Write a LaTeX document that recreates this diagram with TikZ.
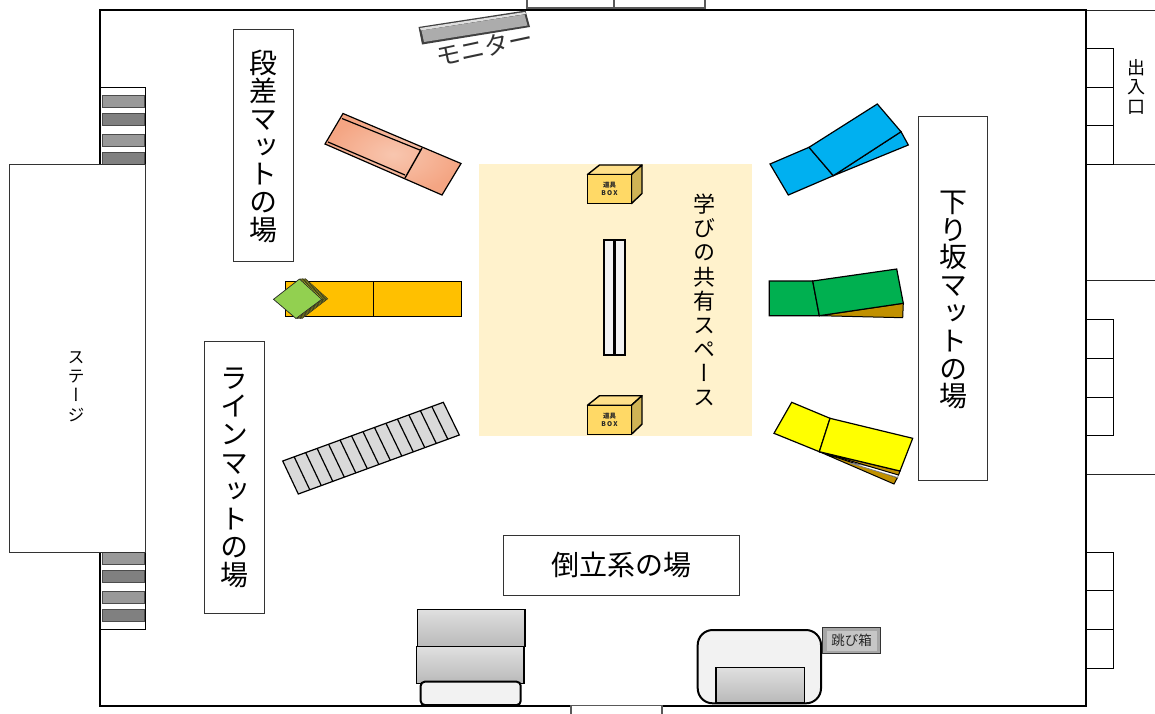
\documentclass[tikz,border=0pt]{standalone}
\usepackage{fontspec}
\newfontfamily\jp{Noto Sans CJK JP}
\newfontfamily\jpv[RawFeature=+vert]{Noto Sans CJK JP}
\usetikzlibrary{calc}
\definecolor{gold}{HTML}{C09000}
\definecolor{cream}{HTML}{FFF2CC}
\definecolor{boxfront}{HTML}{FFD966}
\definecolor{boxtop}{HTML}{FFE08A}
\definecolor{boxside}{HTML}{CFB355}
\definecolor{matorange}{HTML}{FFC000}
\definecolor{leaf}{HTML}{92D050}
\definecolor{matblue}{HTML}{00B0F0}
\definecolor{matgreen}{HTML}{00B050}
\definecolor{matyellow}{HTML}{FFFF00}
\definecolor{salmonin}{HTML}{F8C6AF}
\definecolor{salmonout}{HTML}{F4A583}
\definecolor{stackdark}{HTML}{A8A800}
\definecolor{stacklight}{HTML}{C4C820}
\tikzset{
  ol/.style={draw=black,line width=1.2pt,line join=miter},
  thin box/.style={draw=black,line width=0.9pt,fill=white},
  label box/.style={draw=black!80,line width=0.9pt,fill=white},
  vlabel/.style n args={2}{inner sep=0pt,align=center,text=black,font=\fontsize{#1}{#2}\jpv},
  bar/.style={draw=black!65,line width=1.4pt},
  graybox/.style={ol,top color=gray!25,bottom color=gray!55,line width=1.3pt},
}
\begin{document}
\begin{tikzpicture}[x=1pt,y=-1pt]
\useasboundingbox (0,0) rectangle (1155,713);
\fill[white] (0,0) rectangle (1155,713);

% right-hand outside lines
\foreach \y in {10,164,280,474}{\draw[line width=0.9pt,black!85] (1086,\y) -- (1155,\y);}
\foreach \a/\b/\c/\d in {48/87/125/164,319.5/358/397/435,552/590/629/668}{
  \draw[thin box] (1086,\a) rectangle (1113,\d);
  \draw[line width=0.9pt] (1086,\b) -- (1113,\b) (1086,\c) -- (1113,\c);
}
% doors
\draw[bar,fill=white] (527,-3) rectangle (614,8);
\draw[bar,fill=white] (614,-3) rectangle (705,8);
% left racks
\draw[thin box] (100,87) rectangle (145,164);
\draw[thin box] (100,552) rectangle (145,629);
\foreach \a/\b/\c in {95/107/gray!80,113/125/gray!100,134/146/gray!80,152/164/gray!100,552/564/gray!80,570/582/gray!100,591/603/gray!80,609/621/gray!100}{
  \draw[fill=\c,draw=black!70,line width=1pt] (102,\a) rectangle (144.5,\b);
}
% room
\draw[black,line width=2pt] (100,10) rectangle (1086,706);
\draw[bar,fill=white] (571,705.5) rectangle (662,716);

% stage
\draw[label box] (9.5,164) rectangle (145,552);
\node[vlabel={17}{19.3}] (stage) at (76,386.5) {ス\\テ\\ー\\ジ};

% monitor
\fill[black!75] (418.5,27) -- (525.5,10.5) -- (530,27) -- (422,44.5) -- cycle;
\fill[gray!25] (420,28) -- (525,12) -- (526,14) -- (421,30.5) -- cycle;
\fill[gray!65] (421.5,30.5) -- (524.5,14.5) -- (527.5,25.5) -- (424,42) -- cycle;
\node[rotate=12,inner sep=0pt,text=black!80,font=\fontsize{24.5}{25}\jp] (monitor) at (484.5,47) {モニター};

% labels
\draw[label box] (233,29) rectangle (293,261);
\node[vlabel={28}{27.8}] (l1) at (263,146.5) {段\\差\\マ\\ッ\\ト\\の\\場};
\draw[label box] (918,116) rectangle (987,480);
\node[vlabel={28}{27.8}] (l2) at (953.5,300) {下\\り\\坂\\マ\\ッ\\ト\\の\\場};
\draw[label box] (204,341) rectangle (264,613);
\node[vlabel={28}{28.2}] (l3) at (234,478) {ラ\\イ\\ン\\マ\\ッ\\ト\\の\\場};
\draw[label box] (503,535) rectangle (739,595);
\node[inner sep=0pt,font=\fontsize{28}{28}\jp] (l4) at (621,565) {倒立系の場};

% shared space
\fill[cream] (479,164) rectangle (752,436);
\node[vlabel={22}{24.1}] (l5) at (704,300) {学\\び\\の\\共\\有\\ス\\ペ\\ー\\ス};
\draw[black,line width=2pt,fill=black!5] (604,240) rectangle (625,355);
\draw[black,line width=2.6pt] (614.5,240) -- (614.5,355);
\foreach \y/\n in {0/a,230.7/b}{
  \begin{scope}[yshift=-\y pt]
  \draw[black,line width=1.4pt,line join=round,fill=boxtop] (587.5,174.5) -- (599.5,165) -- (642,165) -- (631.5,174.5) -- cycle;
  \draw[black,line width=1.4pt,line join=round,fill=boxside] (631.5,174.5) -- (642,165) -- (642,193.5) -- (631.5,203.5) -- cycle;
  \draw[black,line width=1.4pt,fill=boxfront] (587.5,174.5) rectangle (631.5,203.5);
  \node[inner sep=0pt,align=center,text=black!85,font=\fontsize{6.5}{8.5}\jp\bfseries] (box\n) at (609.5,189) {道具\\B\,O\,X};
  \end{scope}
}

% salmon mat
\shade[draw=black,line width=1.2pt,inner color=salmonin,outer color=salmonout]
  (343,113.5) -- (461,163.5) -- (442,195) -- (325,144) -- cycle;
\draw[line width=1.4pt] (422,148) -- (405,178);
\draw[line width=1.2pt] (342,118.5) -- (421,150.5);
\draw[line width=1.2pt] (328,142) -- (405,175);

% orange mat
\draw[ol,fill=matorange,line width=1pt] (285.5,281) rectangle (461,316);
\draw[ol] (373.5,281) -- (373.5,316);
% green sheets
\foreach \dx/\c in {6/stackdark,4.5/stacklight,3/stackdark,1.5/stacklight}{
  \draw[black!85,line width=0.5pt,fill=\c] ($(273.5,299.3)+(\dx,0)$) -- ($(299.5,279)+(\dx,-0.3)$) -- ($(321.7,299.3)+(\dx,-0.5)$) -- ($(296,318.5)+(\dx,0)$) -- cycle;
}
\draw[black!85,line width=0.7pt,fill=leaf] (273.5,299.3) -- (299.5,279) -- (321.7,299.3) -- (296,318.5) -- cycle;

% ladder mat
\coordinate (la) at (282.7,461);
\coordinate (lb) at (443.3,402.3);
\coordinate (lc) at (459.3,435);
\coordinate (ld) at (298.3,494);
\draw[ol,fill=gray!30] (la) -- (lb) -- (lc) -- (ld) -- cycle;
\foreach \i in {1,...,13}{
  \draw[ol] ($(la)!{\i/14}!(lb)$) -- ($(ld)!{\i/14}!(lc)$);
}

% blue mat
\draw[ol,fill=matblue] (833.3,175.7) -- (908.3,145) -- (901,131.7) -- cycle;
\draw[ol,fill=matblue] (770,164) -- (809,147.3) -- (833.3,175.7) -- (788.3,195) -- cycle;
\draw[ol,fill=matblue] (809,147.3) -- (877.3,104) -- (901,131.7) -- (833.3,175.7) -- cycle;

% green mat
\draw[line width=1pt,black,fill=gold] (819.3,315.7) -- (903.3,303.3) -- (902.7,317.7) -- cycle;
\draw[ol,fill=matgreen] (769.3,281) -- (812.7,281) -- (819.3,315.7) -- (769.3,315.7) -- cycle;
\draw[ol,fill=matgreen] (812.7,281) -- (896.7,269) -- (903.3,303.3) -- (819.3,315.7) -- cycle;

% yellow mat
\draw[line width=1pt,black,fill=gold] (819.3,451.7) -- (897.5,477.5) -- (894,484) -- cycle;
\draw[line width=0.8pt,black!50,fill=white] (850,463) -- (900,471) -- (897.5,477.5) -- cycle;
\draw[line width=1pt,black,fill=gold] (819.3,451.7) -- (900,471) -- (898.5,475) -- cycle;
\draw[ol,fill=matyellow] (774,433.3) -- (791.7,402.3) -- (830,418.3) -- (819.3,451.7) -- cycle;
\draw[ol,fill=matyellow] (830,418.3) -- (912.7,438.3) -- (900,471) -- (819.3,451.7) -- cycle;

% bottom equipment
\draw[graybox] (417.5,609.5) rectangle (525,646.7);
\draw[graybox] (416.7,646.7) rectangle (524,683.3);
\draw[black,line width=2pt,fill=black!5,rounded corners=4pt] (420.7,681.7) rectangle (520.7,705);
\draw[black,line width=2pt,fill=black!5,rounded corners=15pt] (697.7,630) rectangle (821,703.3);
\draw[graybox] (716,667.7) rectangle (804.3,702.8);
\draw[black!80,line width=1pt,fill=gray!70] (822.7,627.7) rectangle (880.7,653.3);
\fill[gray!45] (826.5,630.5) rectangle (877,650.5);
\node[inner sep=0pt,text=black!85,font=\fontsize{13.5}{14}\jp] (jump) at (851.5,640.5) {跳び箱};

% entrance
\node[vlabel={18}{19.5}] (door) at (1136,86.5) {出\\入\\口};
\end{tikzpicture}
\end{document}
